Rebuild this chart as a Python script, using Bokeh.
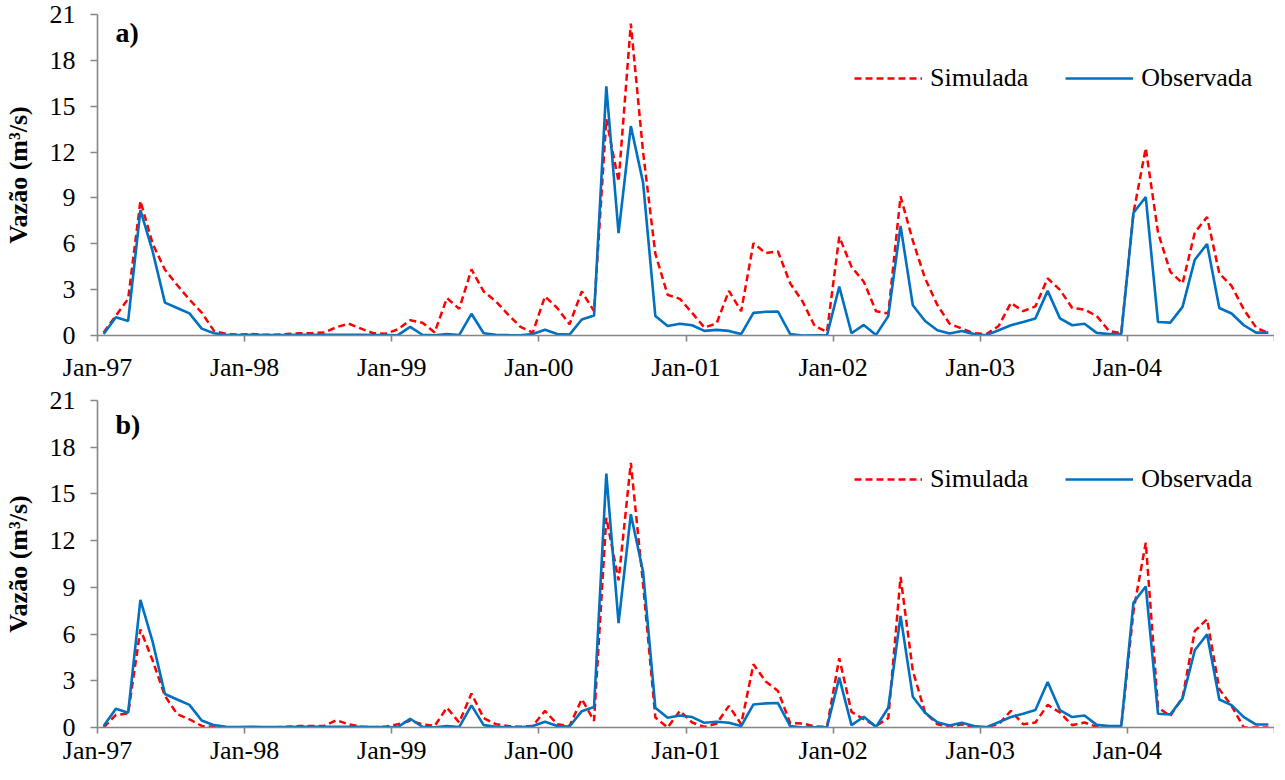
from bokeh.plotting import figure
from bokeh.models import Range1d, FixedTicker, Legend, LegendItem, Label
from bokeh.layouts import column
from bokeh.embed import file_html
from bokeh.resources import INLINE

# ---------------- data ----------------
months = list(range(96))  # Jan-1997 .. Dec-2004
tick_positions = [0, 12, 24, 36, 48, 60, 72, 84, 96]
tick_labels = ["Jan-97", "Jan-98", "Jan-99", "Jan-00", "Jan-01",
               "Jan-02", "Jan-03", "Jan-04", ""]
y_ticks = [0, 3, 6, 9, 12, 15, 18, 21]

observada = [
    0.10, 1.20, 0.95, 8.20, 5.50, 2.15, 1.80, 1.45, 0.45, 0.15, 0.05, 0.03,
    0.05, 0.03, 0.03, 0.03, 0.05, 0.05, 0.05, 0.05, 0.05, 0.05, 0.03, 0.03,
    0.02, 0.56, 0.05, 0.02, 0.10, 0.03, 1.42, 0.15, 0.05, 0.03, 0.02, 0.10,
    0.37, 0.10, 0.06, 1.05, 1.31, 16.30, 6.70, 13.70, 10.00, 1.27, 0.62, 0.77,
    0.67, 0.30, 0.37, 0.30, 0.09, 1.48, 1.55, 1.57, 0.09, 0.00, 0.02, 0.02,
    3.20, 0.15, 0.69, 0.04, 1.27, 7.17, 1.98, 0.95, 0.34, 0.13, 0.30, 0.09,
    0.02, 0.34, 0.67, 0.88, 1.12, 2.92, 1.12, 0.67, 0.77, 0.17, 0.09, 0.09,
    8.03, 9.06, 0.88, 0.84, 1.87, 4.96, 5.99, 1.80, 1.44, 0.67, 0.19, 0.19,
]

simulada_a = [
    0.20, 1.30, 2.40, 8.80, 6.00, 4.30, 3.30, 2.35, 1.50, 0.30, 0.10, 0.05,
    0.10, 0.05, 0.05, 0.10, 0.15, 0.15, 0.20, 0.55, 0.77, 0.45, 0.15, 0.12,
    0.40, 1.00, 0.84, 0.20, 2.45, 1.74, 4.32, 2.88, 2.23, 1.37, 0.56, 0.19,
    2.56, 1.80, 0.73, 2.88, 1.59, 14.15, 10.07, 20.40, 12.00, 5.35, 2.66, 2.40,
    1.48, 0.52, 0.80, 2.92, 1.59, 6.04, 5.39, 5.50, 3.41, 2.23, 0.62, 0.24,
    6.46, 4.49, 3.52, 1.59, 1.44, 9.10, 6.20, 3.74, 2.00, 0.77, 0.45, 0.15,
    0.09, 0.62, 2.13, 1.59, 1.91, 3.74, 2.99, 1.80, 1.70, 1.27, 0.30, 0.15,
    8.03, 12.26, 6.74, 4.17, 3.41, 6.74, 7.75, 4.06, 3.24, 1.70, 0.52, 0.15,
]

simulada_b = [
    0.00, 0.81, 0.90, 6.30, 4.30, 2.03, 0.86, 0.53, 0.10, 0.05, 0.00, 0.00,
    0.02, 0.02, 0.02, 0.05, 0.10, 0.10, 0.10, 0.47, 0.20, 0.05, 0.02, 0.05,
    0.21, 0.43, 0.21, 0.10, 1.28, 0.32, 2.18, 0.60, 0.21, 0.10, 0.05, 0.10,
    1.07, 0.21, 0.10, 1.82, 0.43, 13.47, 9.45, 17.00, 9.20, 0.64, 0.00, 1.07,
    0.32, 0.04, 0.26, 1.39, 0.21, 4.06, 2.95, 2.35, 0.28, 0.26, 0.06, 0.04,
    4.45, 1.00, 0.53, 0.10, 0.60, 9.67, 3.64, 0.96, 0.21, 0.04, 0.21, 0.00,
    0.04, 0.21, 1.07, 0.21, 0.32, 1.45, 0.96, 0.15, 0.32, 0.04, 0.00, 0.04,
    7.49, 11.87, 1.28, 0.75, 1.92, 6.20, 6.95, 2.46, 1.39, 0.00, 0.00, 0.00,
]

FONT = "Liberation Serif"
AXIS_GRAY = "#868686"
RED = "#FF0000"
BLUE = "#0070C0"


def make_panel(sim, tag, frame_h, top, bottom, label_standoff, tag_y, legend_y):
    p = figure(frame_width=1177, frame_height=frame_h,
               x_range=Range1d(0, 96), y_range=Range1d(0, 21),
               output_backend="svg", toolbar_location=None,
               min_border_left=91, min_border_right=0,
               min_border_top=top, min_border_bottom=bottom)
    p.outline_line_color = None
    p.grid.visible = False
    p.background_fill_color = "white"
    p.border_fill_color = "white"

    xs = [m + 0.5 for m in months]
    r_sim = p.line(xs, sim, line_color=RED, line_width=2.5, line_dash="7 4")
    r_obs = p.line(xs, observada, line_color=BLUE, line_width=2.6)

    xa = p.xaxis[0]
    xa.ticker = FixedTicker(ticks=tick_positions)
    xa.major_label_overrides = {t: l for t, l in zip(tick_positions, tick_labels)}
    xa.axis_line_color = AXIS_GRAY
    xa.axis_line_width = 1.6
    xa.major_tick_line_color = AXIS_GRAY
    xa.major_tick_line_width = 1.6
    xa.major_tick_in = 0
    xa.major_tick_out = 6
    xa.minor_tick_line_color = None
    xa.major_label_text_font = FONT
    xa.major_label_text_font_size = "26px"
    xa.major_label_text_color = "black"
    xa.major_label_standoff = label_standoff

    ya = p.yaxis[0]
    ya.ticker = FixedTicker(ticks=y_ticks)
    ya.axis_line_color = AXIS_GRAY
    ya.axis_line_width = 1.6
    ya.major_tick_line_color = AXIS_GRAY
    ya.major_tick_line_width = 1.6
    ya.major_tick_in = 0
    ya.major_tick_out = 7
    ya.minor_tick_line_color = None
    ya.major_label_text_font = FONT
    ya.major_label_text_font_size = "26px"
    ya.major_label_text_color = "black"
    ya.major_label_standoff = 15
    ya.axis_label = "Vazão (m³/s)"
    ya.axis_label_text_font = FONT
    ya.axis_label_text_font_size = "26px"
    ya.axis_label_text_font_style = "bold"
    ya.axis_label_text_color = "black"
    ya.axis_label_standoff = 14

    p.add_layout(Label(x=1.47, y=tag_y, text=tag, text_font=FONT,
                       text_font_size="28px", text_font_style="bold",
                       text_color="black", text_baseline="alphabetic"))

    legend = Legend(items=[LegendItem(label="Simulada", renderers=[r_sim]),
                           LegendItem(label="Observada", renderers=[r_obs])],
                    orientation="horizontal", location=(757, legend_y),
                    glyph_width=68, glyph_height=30, label_height=30,
                    label_standoff=8, spacing=37, padding=0, margin=0,
                    border_line_color=None, background_fill_alpha=0,
                    label_text_font=FONT, label_text_font_size="26px",
                    label_text_color="black")
    p.add_layout(legend)
    return p


pa = make_panel(simulada_a, "a)", 321, 14, 51, 11, 19.82, 242)
pb = make_panel(simulada_b, "b)", 327, 14, 37, 2, 19.46, 233)

layout = column(pa, pb, spacing=0)
open("out.html", "w").write(file_html(layout, INLINE))
